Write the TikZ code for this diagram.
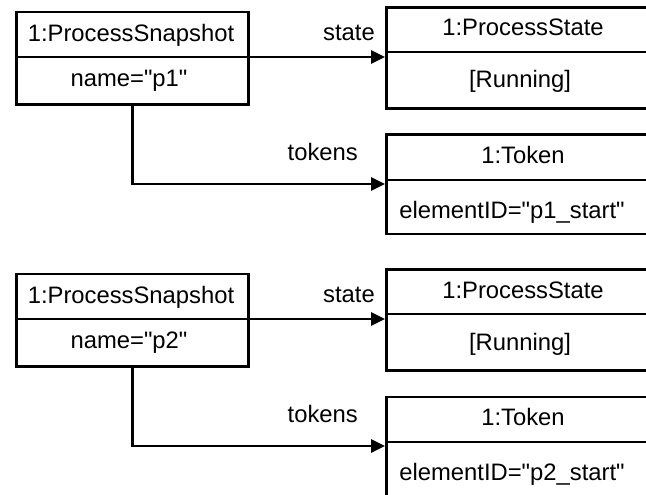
\documentclass[tikz,border=0pt]{standalone}
\usepackage{fontspec}
\setmainfont{Liberation Sans}[Ligatures=TeXOff]
\usetikzlibrary{arrows.meta}

\tikzset{
  objbox/.style={draw, line width=2.7pt, rectangle, inner sep=0pt, anchor=north west},
  divider/.style={line width=2.7pt},
  link/.style={line width=2.7pt, -{Triangle[length=14pt,width=13pt]}},
  txt/.style={inner sep=0pt, anchor=base, font=\fontsize{23.8}{28}\selectfont},
  rolelabel/.style={txt, anchor=base east},
}

\begin{document}
\begin{tikzpicture}[x=1pt, y=-1pt]
  \useasboundingbox (0,0) rectangle (646,495);
  \clip (0,0) rectangle (646,495);
  \foreach \g/\off in {1/0, 2/262} {
    % process snapshot object
    \node[objbox, minimum width=232pt, minimum height=92.3pt] (snap\g) at (15,10.7+\off) {};
    \draw[divider] (snap\g.west |- 0,57+\off) -- (snap\g.east |- 0,57+\off);
    \node[txt] (snaphead\g) at (131,41.7+\off) {1:ProcessSnapshot};
    \node[txt] (snapattr\g) at (129,86.7+\off) {name="p\g"};
    % process state object (runs off the right side)
    \node[objbox, minimum width=275pt, minimum height=101pt] (state\g) at (385,6+\off) {};
    \draw[divider] (state\g.west |- 0,52+\off) -- (state\g.east |- 0,52+\off);
    \node[txt] (statehead\g) at (523,36+\off) {1:ProcessState};
    \node[txt] (stateval\g) at (520,88+\off) {[Running]};
    % token object (runs off the right side)
    \node[objbox, minimum width=275pt, minimum height=99pt] (token\g) at (385,133.5+\off) {};
    \draw[divider] (token\g.west |- 0,180+\off) -- (token\g.east |- 0,180+\off);
    \node[txt] (tokenhead\g) at (523,163+\off) {1:Token};
    \node[txt] (tokenattr\g) at (512,218+\off) {elementID="p\g\_start"};
    % associations
    \draw[link] (snap\g.east |- 0,57+\off) -- (state\g.west |- 0,57+\off);
    \node[rolelabel] (statelbl\g) at (375,40.7+\off) {state};
    \draw[link] (snap\g.south) |- (token\g.west |- 0,184+\off);
    \node[rolelabel] (tokenslbl\g) at (358,160.7+\off) {tokens};
  }
\end{tikzpicture}
\end{document}
